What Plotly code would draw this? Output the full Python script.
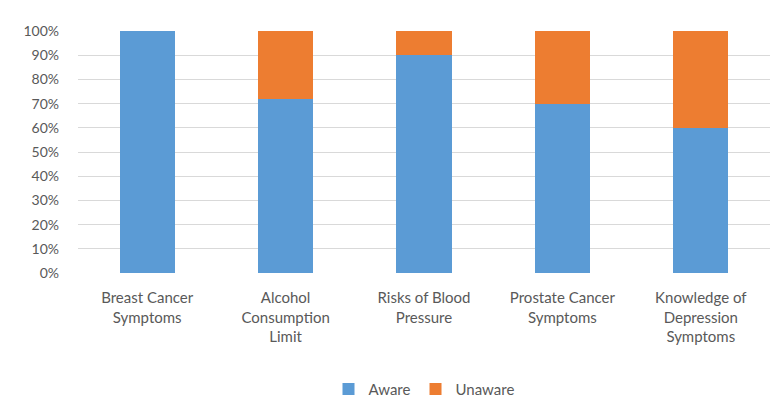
import plotly.graph_objects as go

categories = ["Breast Cancer<br>Symptoms", "Alcohol<br>Consumption<br>Limit", "Risks of Blood<br>Pressure",
              "Prostate Cancer<br>Symptoms", "Knowledge of<br>Depression<br>Symptoms"]
aware = [100, 72, 90, 70, 60]
unaware = [0, 28, 10, 30, 40]
y_ticks = list(range(0, 101, 10))
y_labels = [f"{v}%" for v in y_ticks]

FONT = "Lato, Liberation Sans, sans-serif"

fig = go.Figure()
fig.add_trace(go.Bar(x=categories, y=aware, name="Aware", marker_color="#5B9BD5", marker_line_width=0))
fig.add_trace(go.Bar(x=categories, y=unaware, name="Unaware", marker_color="#ED7D31", marker_line_width=0))

fig.update_layout(
    barmode="stack",
    bargap=0.6,
    width=780, height=405,
    margin=dict(l=78, r=10, t=31, b=132, autoexpand=False),
    paper_bgcolor="white", plot_bgcolor="white",
    font=dict(family=FONT, size=15, color="#595959"),
    showlegend=True,
    legend=dict(orientation="h", x=0.5, xanchor="center", y=-0.48, yanchor="middle",
                font=dict(size=15, color="#595959"), itemwidth=30, traceorder="normal"),
    xaxis=dict(showgrid=False, showline=False, ticks="", tickfont=dict(size=15)),
    yaxis=dict(range=[0, 100], tickvals=y_ticks, ticktext=y_labels, showgrid=True,
               gridcolor="#D9D9D9", gridwidth=1, zeroline=False, showline=False,
               ticks="", ticklen=0, tickfont=dict(size=14)),
)
fig.update_yaxes(ticklabelstandoff=18)
fig.update_xaxes(ticklabelstandoff=14)
fig.write_html("out.html")
